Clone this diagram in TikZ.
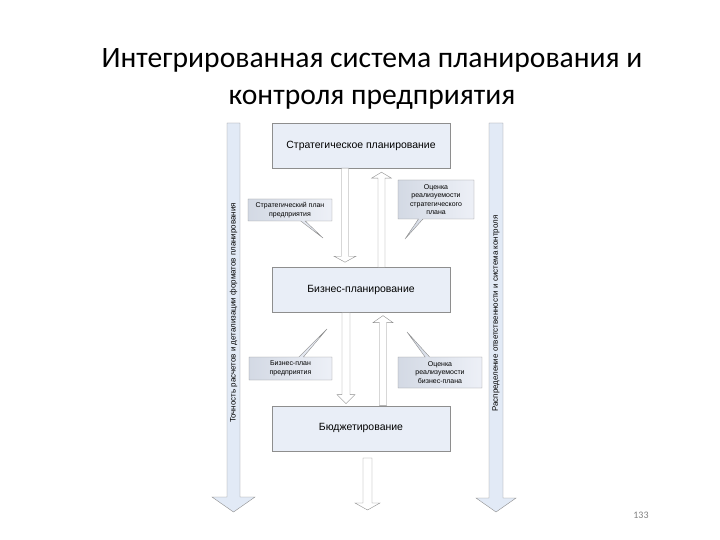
\documentclass[tikz,border=0pt]{standalone}
\usepackage{fontspec}
\setmainfont{Liberation Sans}
\newfontfamily\titlefont{Carlito}
\usetikzlibrary{positioning,calc,shapes.callouts}
\definecolor{PlanLine}{HTML}{8E8E8E}
\definecolor{PlanFill}{HTML}{E9EEF7}
\definecolor{NoteDark}{HTML}{D3D9E4}
\definecolor{NoteLight}{HTML}{EDF0F7}
\definecolor{SideFill}{HTML}{E2EAF6}

\begin{document}
\begin{tikzpicture}[x=1bp,y=-1bp]
    \tikzset{blk/.style={draw=PlanLine,fill=PlanFill,minimum width=178bp,minimum height=45bp,
      inner sep=2bp,font=\fontsize{10.5}{12}\selectfont},
      note/.style={rectangle callout,draw=PlanLine,left color=NoteDark,right color=NoteLight,
      align=center,inner sep=1bp,callout pointer width=4.5bp,font=\fontsize{7}{8.5}\selectfont},
      fat/.style n args={3}{to path={let \p1=(\tikztostart),\p2=(\tikztotarget),\n1={((\y2>\y1)*2-1)} in
        (\x1-#1,\y1) -- (\x1-#1,\y2-\n1*#3) -- (\x1-#2,\y2-\n1*#3) -- (\x1,\y2)
        -- (\x1+#2,\y2-\n1*#3) -- (\x1+#1,\y2-\n1*#3) -- (\x1+#1,\y1) -- cycle}},
      thin/.style={draw=PlanLine,fill=white,line join=miter},
      side/.style={draw=PlanLine,fill=SideFill},
      sidetxt/.style={rotate=90,inner sep=0pt,font=\fontsize{8}{9}\selectfont}}
    \useasboundingbox (0,0) rectangle (720,540);

    \node[align=center,font=\titlefont\fontsize{29.7}{37}\selectfont] (title) at (372,79)
      {Интегрированная система планирования и\\контроля предприятия};

    % levels
    \node[blk] (strat) at (361,145.5) {Стратегическое планирование};
    \node[blk,below=99bp of strat] (biz) {Бизнес-планирование};
    \node[blk,below=93bp of biz] (budget) {Бюджетирование};

    % side arrows
    \coordinate (ltop) at (233.5,123);
    \coordinate (lbot) at (233.5,512);
    \coordinate (rtop) at (496,123);
    \coordinate (rbot) at (496,512);
    \draw[side,fat={6.5bp}{21.5bp}{15bp}] (ltop) to (lbot);
    \draw[side,fat={7bp}{20bp}{14bp}] (rtop) to (rbot);
    \node[sidetxt] (ltxt) at ($(ltop)!0.488!(lbot)$)
      {Точность расчетов и детализации форматов планирования};
    \node[sidetxt] (rtxt) at ($(rtop)!0.49!(rbot)$)
      {Распределение ответственности и система контроля};

    % flows between levels
    \draw[thin,fat={3.5bp}{11bp}{6bp}] ([xshift=-16bp]strat.south) to ([xshift=-16bp,yshift=5bp]biz.north);
    \draw[thin,fat={3.5bp}{10bp}{6bp}] ([xshift=20.5bp]biz.north) to ([xshift=20.5bp,yshift=-4bp]strat.south);
    \draw[thin,fat={4bp}{9bp}{9bp}] ([xshift=-15bp]biz.south) to ([xshift=-15bp,yshift=2bp]budget.north);
    \draw[thin,fat={3.5bp}{10bp}{7bp}] ([xshift=22bp]budget.north) to ([xshift=22bp,yshift=-3bp]biz.south);
    \coordinate (out) at (367.5,510);
    \draw[thin,fat={4.5bp}{12.5bp}{7bp}] ([xshift=6.5bp,yshift=-7bp]budget.south) to (out);

    % callouts
    \node[note,minimum width=84bp,minimum height=22bp,callout absolute pointer={(323,238)}] (splan)
      at (290,210) {Стратегический план\\предприятия};
    \node[note,minimum width=76bp,minimum height=39bp,callout absolute pointer={(405,239)}] (seval)
      at (436,199.5) {Оценка\\реализуемости\\стратегического\\плана};
    \node[note,minimum width=83bp,minimum height=23bp,callout absolute pointer={(327,329)}] (bplan)
      at (290.5,368.5) {Бизнес-план\\предприятия};
    \node[note,minimum width=84bp,minimum height=31bp,callout absolute pointer={(407,332)}] (beval)
      at (440,372.5) {Оценка\\реализуемости\\бизнес-плана};

    \node[text=gray,font=\titlefont\fontsize{10}{12}\selectfont] (page) at (641,515) {133};
  \end{tikzpicture}
\end{document}
